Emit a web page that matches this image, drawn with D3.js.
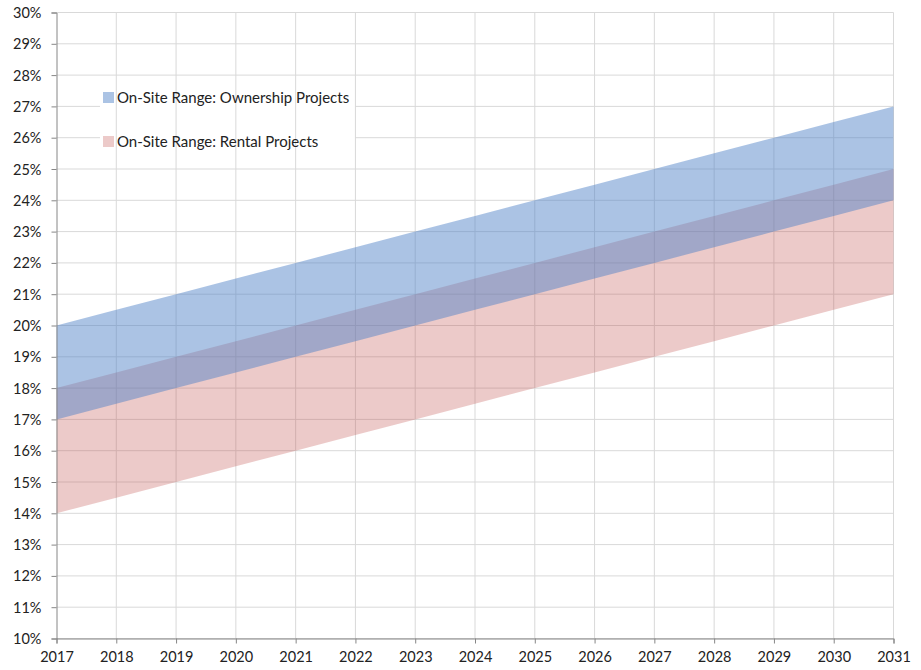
<!DOCTYPE html>
<html>
<head>
<meta charset="utf-8">
<script src="https://cdn.jsdelivr.net/npm/d3@7"></script>
<style>
  body { margin: 0; background: #fff; }
  text { font-family: Lato, "Open Sans", sans-serif; fill: #222; }
</style>
</head>
<body>
<svg width="921" height="670"></svg>
<script>
// years on the x axis
const years = [2017, 2018, 2019, 2020, 2021, 2022, 2023, 2024, 2025, 2026, 2027, 2028, 2029, 2030, 2031];

// ownership band (percent)
const ownLow  = [17, 17.5, 18, 18.5, 19, 19.5, 20, 20.5, 21, 21.5, 22, 22.5, 23, 23.5, 24];
const ownHigh = [20, 20.5, 21, 21.5, 22, 22.5, 23, 23.5, 24, 24.5, 25, 25.5, 26, 26.5, 27];

// rental band (percent)
const rentLow  = [14, 14.5, 15, 15.5, 16, 16.5, 17, 17.5, 18, 18.5, 19, 19.5, 20, 20.5, 21];
const rentHigh = [18, 18.5, 19, 19.5, 20, 20.5, 21, 21.5, 22, 22.5, 23, 23.5, 24, 24.5, 25];

const yTicks = [10, 11, 12, 13, 14, 15, 16, 17, 18, 19, 20, 21, 22, 23, 24, 25, 26, 27, 28, 29, 30];
const legendLabels = ["On-Site Range: Ownership Projects", "On-Site Range: Rental Projects"];

const svg = d3.select("svg");
const margin = {left: 56.5, right: 27.5, top: 12.5, bottom: 31.5};
const W = 921, H = 670;

const x = d3.scaleLinear().domain([2017, 2031]).range([margin.left, W - margin.right]);
const y = d3.scaleLinear().domain([10, 30]).range([H - margin.bottom, margin.top]);

// horizontal grid
svg.append('g').selectAll('line')
  .data(yTicks).enter().append('line')
  .attr('x1', margin.left).attr('x2', W - margin.right)
  .attr('y1', d => y(d)).attr('y2', d => y(d))
  .attr('stroke', '#d9d9d9').attr('stroke-width', 1);

// legend area hides the horizontal grid
svg.append('rect')
  .attr('x', 100).attr('y', 86).attr('width', 255).attr('height', 62)
  .attr('fill', '#fff');

// vertical grid
svg.append('g').selectAll('line')
  .data(years.slice(1)).enter().append('line')
  .attr('x1', d => x(d)).attr('x2', d => x(d))
  .attr('y1', margin.top).attr('y2', H - margin.bottom)
  .attr('stroke', '#d9d9d9').attr('stroke-width', 1);

const band = (lo, hi) => d3.area()
  .x((d, i) => x(years[i]))
  .y0((d, i) => y(lo[i]))
  .y1((d, i) => y(hi[i]));

svg.append('path')
  .attr('d', band(rentLow, rentHigh)(years))
  .attr('fill', 'rgb(192,80,77)').attr('fill-opacity', 0.3);

svg.append('path')
  .attr('d', band(ownLow, ownHigh)(years))
  .attr('fill', 'rgb(79,129,199)').attr('fill-opacity', 0.48);

// axes
const yAxis = d3.axisLeft(y).tickValues(yTicks).tickSize(5).tickPadding(10)
  .tickFormat(d => d + '%');
const gy = svg.append('g').attr('transform', `translate(${margin.left},0)`).call(yAxis);

const xAxis = d3.axisBottom(x).tickValues(years).tickSize(5).tickPadding(8)
  .tickFormat(d3.format('d'));
const gx = svg.append('g').attr('transform', `translate(0,${H - margin.bottom})`).call(xAxis);

[gy, gx].forEach(g => {
  g.select('.domain').attr('stroke', '#868686');
  g.selectAll('.tick line').attr('stroke', '#868686');
  g.selectAll('.tick text').style('font-size', '14.5px').attr('fill', '#222');
});
gy.selectAll('.tick text').attr('dy', '0.35em');

// legend
const legendColors = [['rgb(79,129,199)', 0.48], ['rgb(192,80,77)', 0.3]];
const lg = svg.append('g').selectAll('g')
  .data(legendLabels).enter().append('g')
  .attr('transform', (d, i) => `translate(103,${92 + i * 44})`);
lg.append('rect').attr('width', 11).attr('height', 11)
  .attr('fill', (d, i) => legendColors[i][0])
  .attr('fill-opacity', (d, i) => legendColors[i][1]);
lg.append('text').attr('x', 14).attr('y', 11)
  .style('font-size', '15px').text(d => d);
</script>
</body>
</html>
